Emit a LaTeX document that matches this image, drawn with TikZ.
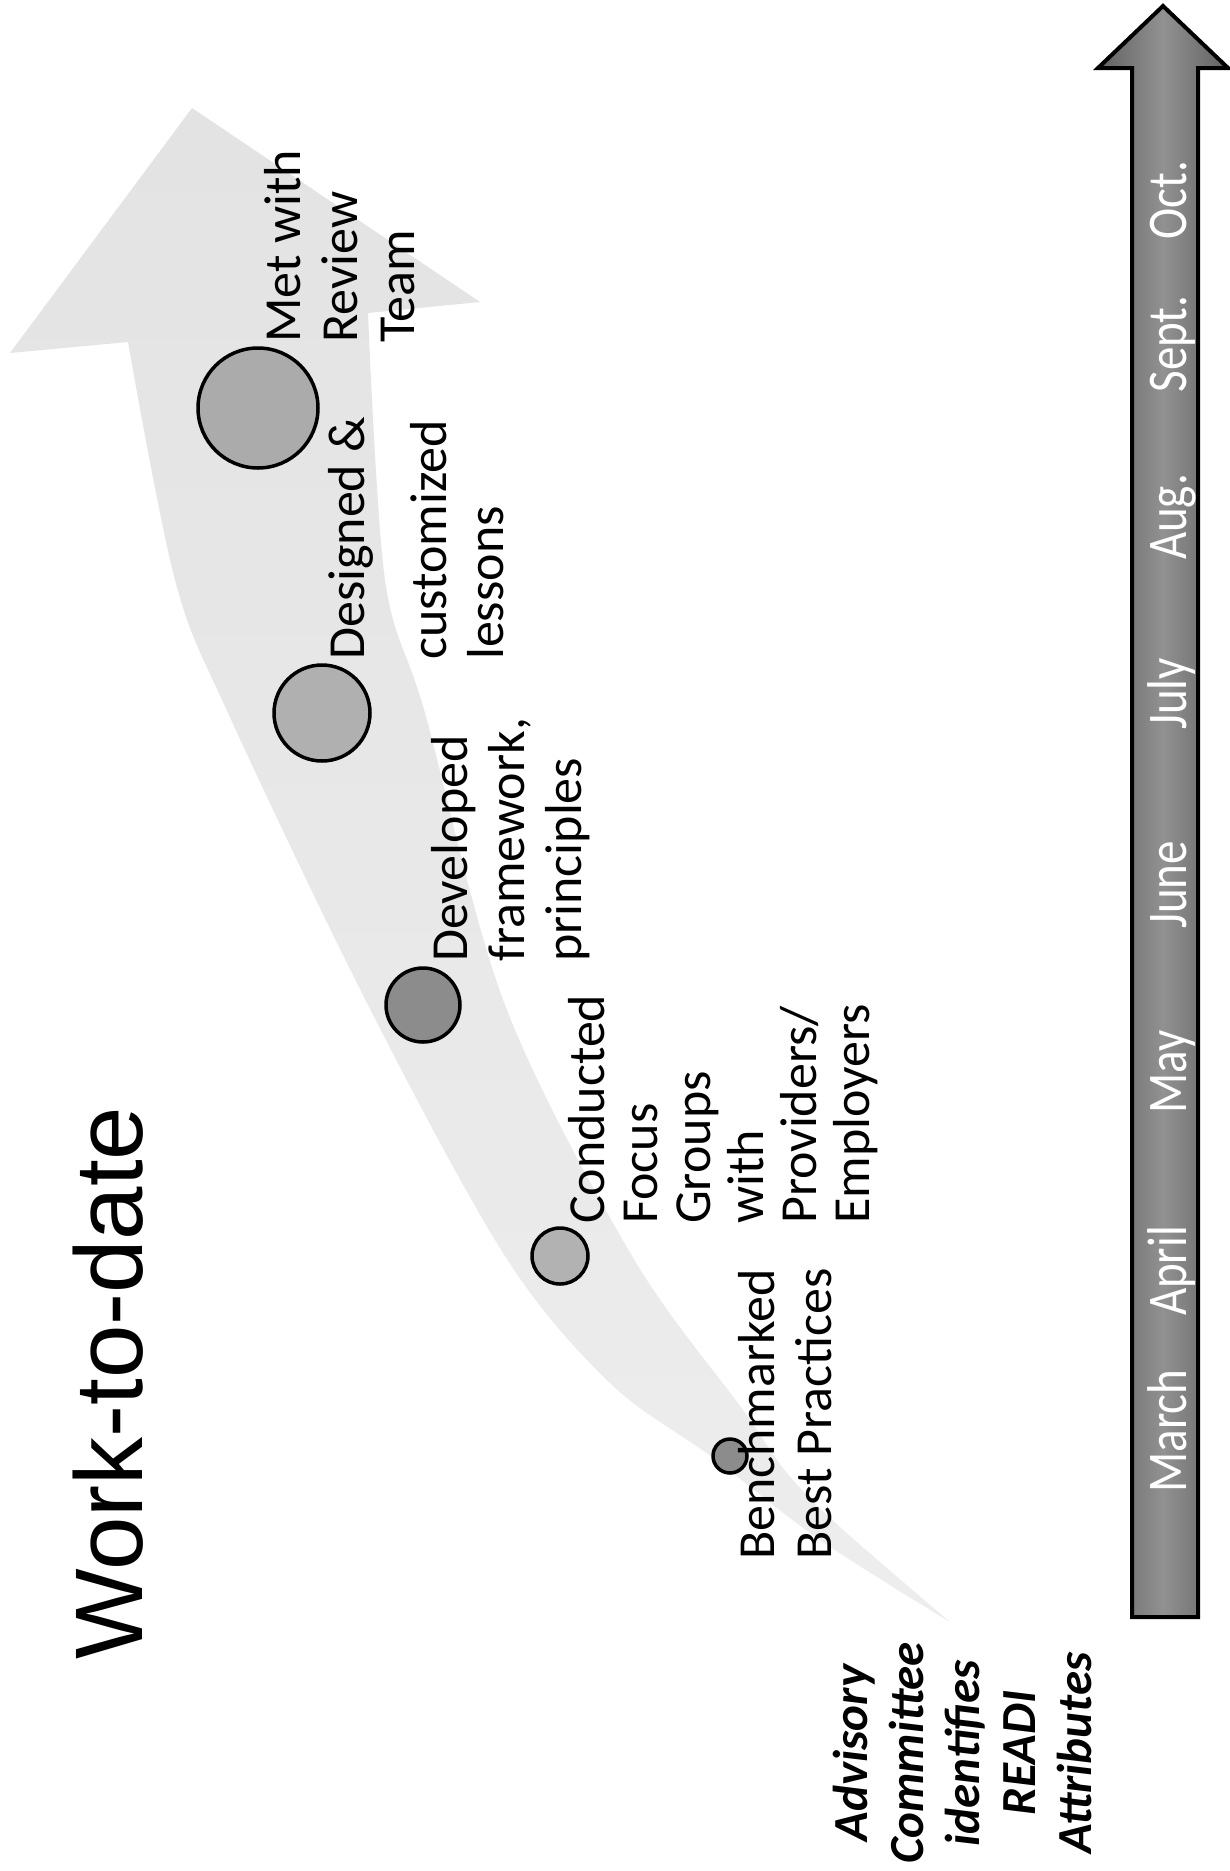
\documentclass[tikz,border=0pt]{standalone}
\usepackage{fontspec}
\setmainfont{Carlito}
\newfontfamily\titlefont{Liberation Sans}
\newfontfamily\monthfont[FakeStretch=0.84]{Carlito}
\begin{document}
\begin{tikzpicture}[x=1pt,y=-1pt,
  lbl/.style={rotate=90, anchor=north west, inner sep=0pt, align=left, font=\fontsize{52}{57}\selectfont},
  monthlbl/.style={rotate=90, anchor=base, inner sep=0pt, text=white, font=\monthfont\fontsize{56}{60}\selectfont},
  dot/.style={circle, draw=black, line width=3.5pt, inner sep=0pt}]
\useasboundingbox (0,0) rectangle (1230,1871);
\fill[white] (0,0) rectangle (1230,1871);
% curved progress band
\shade[top color=black!11, bottom color=black!7]
  (192,108) -- (480,302) -- (368,313)
  -- plot[smooth, tension=0.55] coordinates {(368,313) (385,580) (425,713) (505,1005) (632,1256) (743,1410) (787,1473) (840,1527) (950,1622)}
  -- plot[smooth, tension=0.55] coordinates {(950,1622) (820,1540) (712,1457) (610,1383) (505,1256) (368,1005) (228,713) (175,580) (128,342)}
  -- (10,353) -- cycle;
% timeline arrow
\draw[line width=4pt, left color=black!62, right color=black!62, middle color=black!43]
  (1132,1617) -- (1132,68) -- (1098,68) -- (1163,6) -- (1228,68) -- (1198,68) -- (1198,1617) -- cycle;
% months
\node[monthlbl] (m3) at (1186,1431) {March};
\node[monthlbl] (m4) at (1186,1271) {April};
\node[monthlbl] (m5) at (1186,1072) {May};
\node[monthlbl] (m6) at (1186,885) {June};
\node[monthlbl] (m7) at (1186,694) {July};
\node[monthlbl] (m8) at (1186,517) {Aug.};
\node[monthlbl] (m9) at (1186,344) {Sept.};
\node[monthlbl] (m10) at (1186,200) {Oct.};
% title
\node[rotate=90, anchor=base west, inner sep=0pt, font=\titlefont\fontsize{96}{100}\selectfont] (title) at (142,1660) {Work-to-date};
% milestone dots
\node[dot, minimum size=120pt, fill=black!33] (met) at (258,408) {};
\node[dot, minimum size=96pt, fill=black!31] (des) at (322,713) {};
\node[dot, minimum size=74pt, fill=black!45] (dev) at (423,1005) {};
\node[dot, minimum size=56pt, fill=black!30] (con) at (560,1256) {};
\node[dot, minimum size=34pt, fill=black!45] (ben) at (730,1456) {};
% labels
\node[lbl] (metl) at (264,343) {Met with\\Review\\Team};
\node[lbl] (desl) at (328,660) {Designed \&\\[25pt]customized\\lessons};
\node[lbl] (devl) at (431,962) {Developed\\framework,\\principles};
\node[lbl, font=\fontsize{52}{53}\selectfont] (conl) at (568,1224) {Conducted\\Focus\\Groups\\with\\Providers/\\Employers};
\node[lbl] (benl) at (738,1560) {Benchmarked\\Best Practices};
\node[rotate=90, anchor=north, inner sep=0pt, align=center, font=\bfseries\itshape\fontsize{49}{56}\selectfont] (adv) at (833,1753) {Advisory\\Committee\\identifies\\READI\\Attributes};
\end{tikzpicture}
\end{document}
